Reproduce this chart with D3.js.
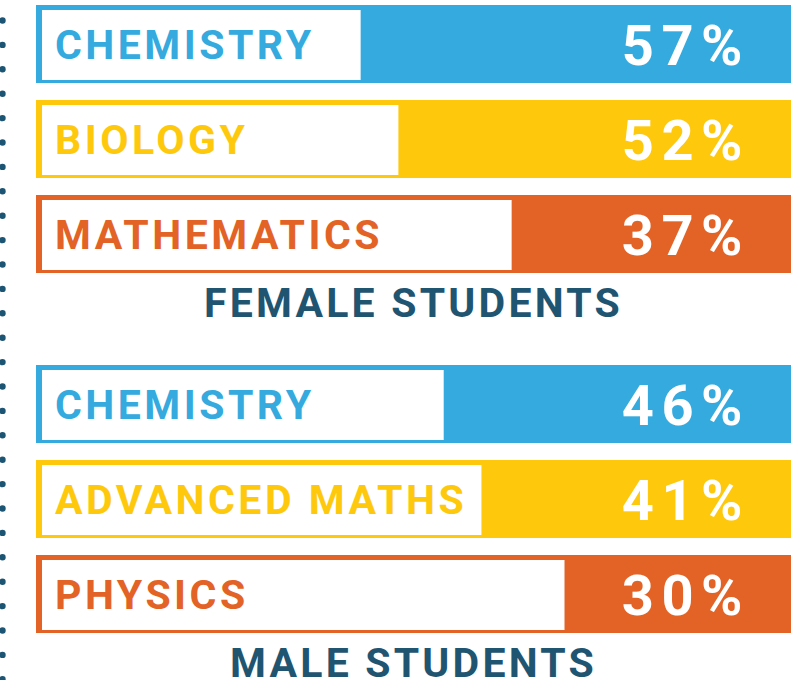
<!DOCTYPE html>
<html>
<head>
<meta charset="utf-8">
<script src="https://cdn.jsdelivr.net/npm/d3@7"></script>
<style>
  html, body { margin: 0; padding: 0; background: #fff; }
  svg { display: block; font-family: Roboto, "Noto Sans", sans-serif; }
</style>
</head>
<body>
<div id="chart"></div>
<script>
// values
const femaleSubjects = ["CHEMISTRY", "BIOLOGY", "MATHEMATICS"];
const femaleValues = [57, 52, 37];
const maleSubjects = ["CHEMISTRY", "ADVANCED MATHS", "PHYSICS"];
const maleValues = [46, 41, 30];
const groupTitles = ["FEMALE STUDENTS", "MALE STUDENTS"];
const barColors = ["#35aade", "#fec90c", "#e36326"];

const width = 803, height = 680;
const svg = d3.select("#chart").append("svg")
    .attr("width", width)
    .attr("height", height);

// dotted rule on the left edge
const dotY = d3.range(20.5, height + 4, 24.4);
svg.append("g").selectAll("circle")
    .data(dotY)
    .join("circle")
    .attr("cx", 2.5)
    .attr("cy", d => d)
    .attr("r", 3.2)
    .attr("fill", "#1c5473");

// colored part grows from the right edge
const x = d3.scaleLinear().domain([0, 100]).range([791, 36]);

const groups = [
    {title: groupTitles[0], subjects: femaleSubjects, values: femaleValues, top: 5, titleY: 317},
    {title: groupTitles[1], subjects: maleSubjects, values: maleValues, top: 365, titleY: 677}
];

groups.forEach(g => {
    const y = d3.scaleBand()
        .domain(g.subjects)
        .range([g.top, g.top + 268])
        .paddingInner(17 / 95);

    const rows = g.subjects.map((s, i) => ({name: s, value: g.values[i], color: barColors[i]}));

    const bar = svg.append("g").selectAll("g")
        .data(rows)
        .join("g")
        .attr("transform", d => `translate(0,${y(d.name)})`);

    bar.append("rect")
        .attr("x", x(100))
        .attr("width", x(0) - x(100))
        .attr("height", y.bandwidth())
        .attr("fill", d => d.color);

    bar.append("rect")
        .attr("x", x(100) + 6)
        .attr("y", 5)
        .attr("width", d => x(d.value) - x(100) - 6)
        .attr("height", 70)
        .attr("fill", "#fff");

    bar.append("text")
        .attr("x", 55)
        .attr("y", 54)
        .attr("fill", d => d.color)
        .attr("font-size", 41)
        .attr("font-weight", 700)
        .attr("letter-spacing", 3.5)
        .text(d => d.name);

    bar.append("text")
        .attr("x", 750)
        .attr("y", 60)
        .attr("text-anchor", "end")
        .attr("fill", "#fff")
        .attr("font-size", 56)
        .attr("font-weight", 700)
        .attr("letter-spacing", 7.5)
        .text(d => d.value + "%");

    svg.append("text")
        .attr("x", (x(0) + x(100)) / 2)
        .attr("y", g.titleY)
        .attr("text-anchor", "middle")
        .attr("fill", "#1f5571")
        .attr("font-size", 41)
        .attr("font-weight", 700)
        .attr("letter-spacing", 3.2)
        .text(g.title);
});
</script>
</body>
</html>
